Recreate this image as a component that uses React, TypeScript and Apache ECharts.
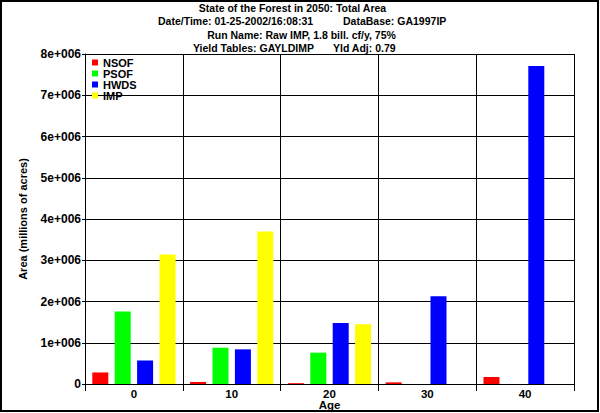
import React, { useEffect, useRef } from "react";
import * as echarts from "echarts";

const categories = ["0", "10", "20", "30", "40"];
const nsof = [280000, 50000, 20000, 40000, 170000];
const psof = [1760000, 880000, 760000, 0, 0];
const hwds = [570000, 840000, 1480000, 2130000, 7710000];
const imp = [3140000, 3700000, 1450000, 0, 0];
const seriesNames = ["NSOF", "PSOF", "HWDS", "IMP"];
const seriesColors = ["#ff0000", "#00ff00", "#0000ff", "#ffff00"];
const yTicks = [0, 1e6, 2e6, 3e6, 4e6, 5e6, 6e6, 7e6, 8e6];

const FONT = "'Liberation Sans', Arial, sans-serif";

export default function App() {
  const ref = useRef<HTMLDivElement>(null);
  useEffect(() => {
    if (!ref.current) return;
    const chart = echarts.init(ref.current, undefined, { renderer: "svg" });
    const data = [nsof, psof, hwds, imp];
    const titleStyle = { fontSize: 10.5, fontWeight: "bold", fontFamily: FONT, fill: "#000" };
    chart.setOption({
      animation: false,
      backgroundColor: "#fff",
      textStyle: { fontFamily: FONT },
      graphic: [
        { type: "rect", shape: { x: 1, y: 1, width: 597, height: 410 }, style: { fill: "none", stroke: "#000", lineWidth: 2 }, silent: true },
        { type: "text", x: 292.5, y: 8, style: { ...titleStyle, text: "State of the Forest in 2050: Total Area", textAlign: "center", textVerticalAlign: "middle" } },
        { type: "text", x: 158, y: 21, style: { ...titleStyle, text: "Date/Time: 01-25-2002/16:08:31", textAlign: "left", textVerticalAlign: "middle" } },
        { type: "text", x: 343, y: 21, style: { ...titleStyle, text: "DataBase: GA1997IP", textAlign: "left", textVerticalAlign: "middle" } },
        { type: "text", x: 301.5, y: 34.5, style: { ...titleStyle, text: "Run Name: Raw IMP, 1.8 bill. cf/y, 75%", textAlign: "center", textVerticalAlign: "middle" } },
        { type: "text", x: 193, y: 47.5, style: { ...titleStyle, text: "Yield Tables: GAYLDIMP", textAlign: "left", textVerticalAlign: "middle" } },
        { type: "text", x: 333, y: 47.5, style: { ...titleStyle, text: "Yld Adj: 0.79", textAlign: "left", textVerticalAlign: "middle" } },
      ],
      legend: {
        orient: "vertical",
        left: 92,
        top: 57,
        padding: 0,
        itemGap: 0,
        itemWidth: 6,
        itemHeight: 6,
        icon: "rect",
        data: seriesNames,
        textStyle: { fontSize: 11, fontWeight: "bold", color: "#000", lineHeight: 8.7, fontFamily: FONT },
      },
      grid: { left: 85, right: 26, top: 54, bottom: 29, containLabel: false, outerBoundsMode: "none" },
      xAxis: {
        type: "category",
        data: categories,
        name: "Age",
        nameLocation: "middle",
        nameGap: 15.5,
        nameMoveOverlap: false,
        nameTextStyle: { fontSize: 11.5, fontWeight: "bold", color: "#000", fontFamily: FONT, lineHeight: 11 },
        axisLine: { show: true, lineStyle: { color: "#000", width: 1 } },
        axisTick: { show: true, length: 7, lineStyle: { color: "#000", width: 1 } },
        axisLabel: { fontSize: 11.5, fontWeight: "bold", color: "#000", margin: 4, fontFamily: FONT, lineHeight: 11 },
        splitLine: { show: true, lineStyle: { color: "#000", width: 1 } },
      },
      yAxis: {
        type: "value",
        min: 0,
        max: 8e6,
        interval: 1e6,
        name: "Area (millions of acres)",
        nameLocation: "middle",
        nameRotate: 90,
        nameGap: 57,
        nameMoveOverlap: false,
        nameTextStyle: { fontSize: 11, fontWeight: "bold", color: "#000", fontFamily: FONT },
        axisLine: { show: true, lineStyle: { color: "#000", width: 1 } },
        axisTick: { show: true, length: 3, lineStyle: { color: "#000", width: 1 } },
        axisLabel: {
          fontSize: 12,
          fontWeight: "bold",
          color: "#000",
          margin: 4,
          fontFamily: FONT,
          formatter: (v: number) => (yTicks.indexOf(v) <= 0 ? "0" : `${v / 1e6}e+006`),
        },
        splitLine: { show: true, lineStyle: { color: "#000", width: 1 } },
      },
      series: seriesNames.map((name, i) => ({
        name,
        type: "bar",
        data: data[i],
        barWidth: 16,
        barGap: "40%",
        itemStyle: { color: seriesColors[i] },
      })),
    });
    return () => chart.dispose();
  }, []);
  return <div ref={ref} style={{ position: "fixed", left: 0, top: 0, width: 600, height: 413 }} />;
}
